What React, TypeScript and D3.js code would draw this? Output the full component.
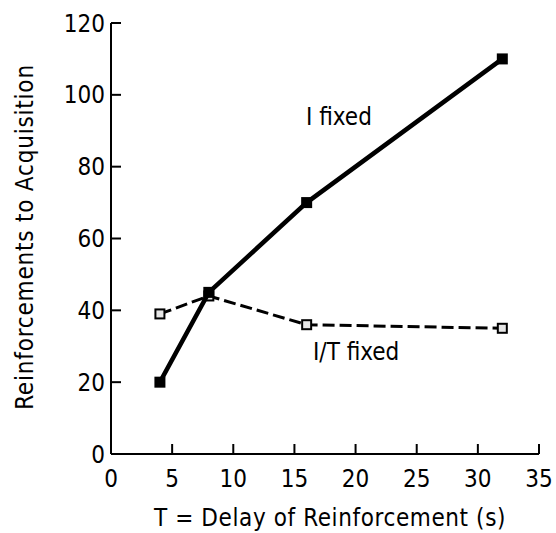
import React from 'react';
import * as d3 from 'd3';

const DELAYS = [4, 8, 16, 32];
const I_FIXED = [20, 45, 70, 110];
const IT_FIXED = [39, 44, 36, 35];
const X_TICKS = [0, 5, 10, 15, 20, 25, 30, 35];
const Y_TICKS = [0, 20, 40, 60, 80, 100, 120];

const FONT = '"DejaVu Sans Condensed", "Liberation Sans Narrow", sans-serif';

const W = 556;
const H = 533;
const margin = { left: 111, right: 17, top: 23, bottom: 79 };

const App: React.FC = () => {
  const x = d3.scaleLinear().domain([0, 35]).range([margin.left, W - margin.right]);
  const y = d3.scaleLinear().domain([0, 120]).range([H - margin.bottom, margin.top]);

  const line = d3
    .line<number>()
    .x((_, i) => x(DELAYS[i]))
    .y((d) => y(d));

  const x0 = x(0);
  const y0 = y(0);
  const tick = 10;
  const fs = 24;

  return (
    <svg
      width={W}
      height={H}
      style={{ position: 'absolute', left: 0, top: 0, background: '#fff' }}
      fontFamily={FONT}
      fontSize={fs}
    >
      {/* axes */}
      <line x1={x0} x2={x0} y1={y(120)} y2={y0} stroke="#000" strokeWidth={2} />
      <line x1={x0} x2={x(35)} y1={y0} y2={y0} stroke="#000" strokeWidth={2} />
      {Y_TICKS.map((t) => (
        <g key={`y${t}`}>
          <line x1={x0} x2={x0 + tick} y1={y(t)} y2={y(t)} stroke="#000" strokeWidth={2} />
          <text x={x0 - 6} y={y(t) + 8.5} textAnchor="end">
            {t}
          </text>
        </g>
      ))}
      {X_TICKS.map((t) => (
        <g key={`x${t}`}>
          <line x1={x(t)} x2={x(t)} y1={y0} y2={y0 - tick} stroke="#000" strokeWidth={2} />
          <text x={x(t)} y={y0 + 33} textAnchor="middle">
            {t}
          </text>
        </g>
      ))}

      <text x={330} y={526} textAnchor="middle" letterSpacing={0.6}>
        T = Delay of Reinforcement (s)
      </text>
      <text
        transform={`translate(33, 237) rotate(-90)`}
        textAnchor="middle"
        letterSpacing={0.8}
      >
        Reinforcements to Acquisition
      </text>

      {/* I/T fixed */}
      <path
        d={line(IT_FIXED) ?? ''}
        fill="none"
        stroke="#000"
        strokeWidth={3}
        strokeDasharray="12 5"
      />
      {IT_FIXED.map((v, i) => (
        <rect
          key={`o${i}`}
          x={x(DELAYS[i]) - 4.5}
          y={y(v) - 4.5}
          width={9}
          height={9}
          fill="#e6e6e6"
          stroke="#000"
          strokeWidth={2}
        />
      ))}

      {/* I fixed */}
      <path d={line(I_FIXED) ?? ''} fill="none" stroke="#000" strokeWidth={4.5} />
      {I_FIXED.map((v, i) => (
        <rect
          key={`f${i}`}
          x={x(DELAYS[i]) - 5.5}
          y={y(v) - 5.5}
          width={11}
          height={11}
          fill="#000"
        />
      ))}

      <text x={306} y={125}>
        I fixed
      </text>
      <text x={313} y={360}>
        I/T fixed
      </text>
    </svg>
  );
};

export default App;
